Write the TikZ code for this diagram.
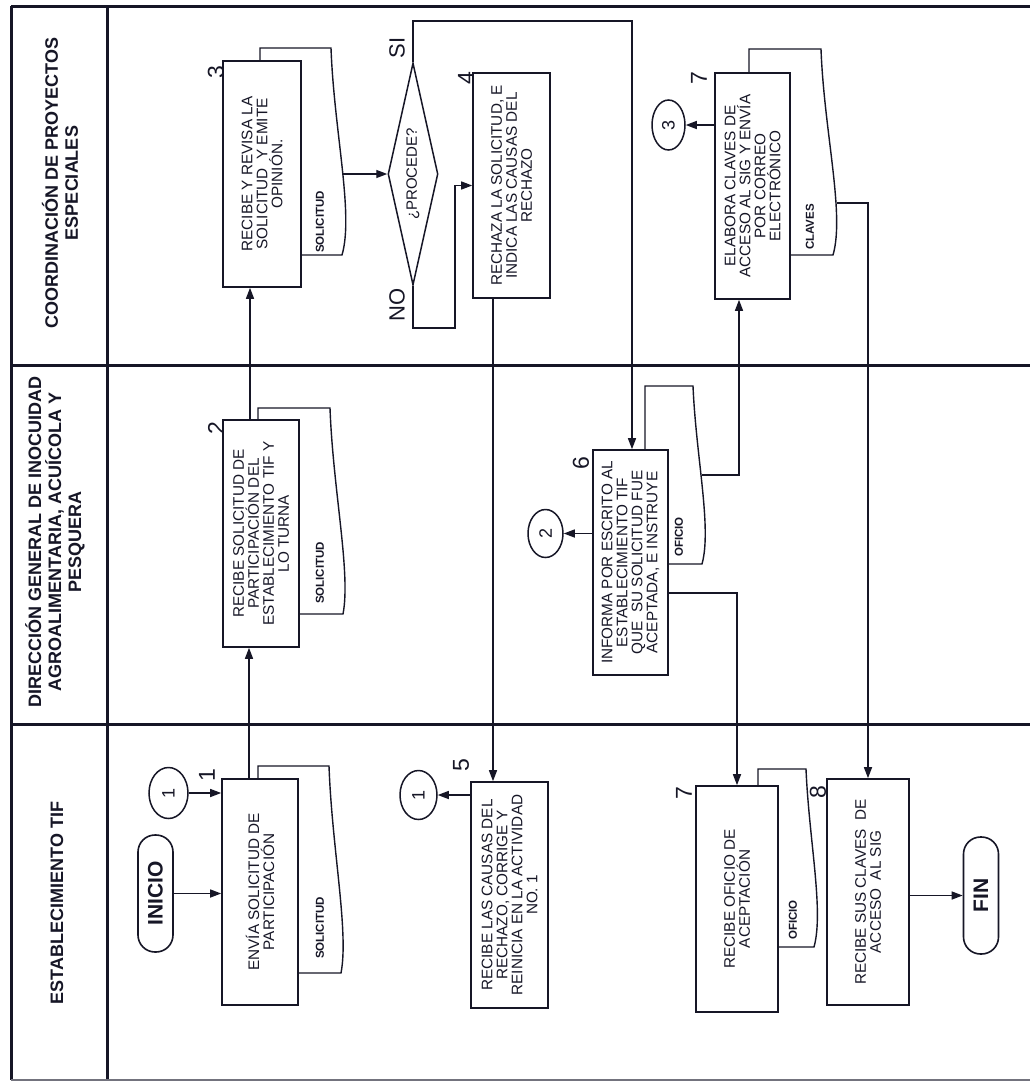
\documentclass[tikz,border=0pt]{standalone}
\usepackage{fontspec}
\setmainfont{Liberation Sans}
\usetikzlibrary{arrows.meta,shapes.geometric}
\definecolor{ink}{RGB}{22,22,38}
\begin{document}
\begin{tikzpicture}[x=1pt,y=-1pt,
  frameline/.style={draw=ink,line width=3pt},
  proc/.style={draw=ink,line width=1.6pt,fill=white,rotate=90,align=center,inner sep=0pt,text=ink,font=\fontsize{15.3}{15}\selectfont},
  docs/.style={draw=ink,line width=1.4pt},
  term/.style={draw=ink,line width=1.6pt,fill=white,rotate=90,rounded corners=17pt,inner sep=0pt,minimum width=117pt,minimum height=35pt,text=ink,font=\fontsize{21}{21}\selectfont\bfseries},
  conn/.style={draw=ink,line width=1.5pt,ellipse,rotate=90,inner sep=0pt,text=ink,font=\fontsize{18}{18}\selectfont},
  hdr/.style={rotate=90,align=center,inner sep=0pt,font=\fontsize{18}{20}\selectfont\bfseries,text=ink},
  num/.style={rotate=90,inner sep=0pt,font=\fontsize{23}{23}\selectfont,text=ink},
  dlbl/.style={rotate=90,inner sep=0pt,font=\fontsize{11.5}{12}\selectfont\bfseries,text=ink},
  arr/.style={draw=ink,line width=1.4pt,-{Triangle[length=11pt,width=8pt]}}
]
\useasboundingbox[fill=white] (0,0) rectangle (1030,1082);

% frame and lanes
\draw[frameline] (11,6) -- (1030,6);
\draw[frameline] (11,6) -- (11,1080);
\draw[frameline] (107,6) -- (107,1080);
\draw[frameline] (11,365) -- (1030,365);
\draw[frameline] (11,724) -- (1030,724);
\draw[draw=ink!60,line width=2pt] (11,1080) -- (1030,1080);

% lane headers
\node[hdr] (h1) at (60,183) {COORDINACIÓN DE PROYECTOS\\ESPECIALES};
\node[hdr] (h2) at (55,542) {DIRECCIÓN GENERAL DE INOCUIDAD\\AGROALIMENTARIA, ACUÍCOLA Y\\PESQUERA};
\node[hdr] (h3) at (57,903) {ESTABLECIMIENTO TIF};

% document shapes behind the boxes
\draw[docs] (260,61) -- (260,48) -- (331,48) .. controls (334,131) and (354,214) .. (342,255) -- (301,255);
\draw[docs] (258,420) -- (258,408) -- (330,408) .. controls (333,490) and (351,573) .. (343,614) -- (299,614);
\draw[docs] (258,779) -- (258,766) -- (329,766) .. controls (332,849) and (349,932) .. (341,973) -- (298,973);
\draw[docs] (749,73) -- (749,49) -- (821,49) .. controls (824,131) and (845,214) .. (833,255) -- (790,255);
\draw[docs] (645,450) -- (645,386) -- (693,386) .. controls (696,457) and (712,528) .. (702,564) -- (668,564);
\draw[docs] (758,786) -- (758,769) -- (806,769) .. controls (809,840) and (824,911) .. (814,947) -- (778,947);

\node[dlbl] (s3) at (320,222) {SOLICITUD};
\node[dlbl] (s2) at (320,573) {SOLICITUD};
\node[dlbl] (s1) at (320,928) {SOLICITUD};
\node[dlbl] (cl) at (810,227) {CLAVES};
\node[dlbl] (of6) at (679,537) {OFICIO};
\node[dlbl] (of7) at (793,920) {OFICIO};

% process boxes
\node[proc,minimum width=226pt,minimum height=76pt] (b1) at (260,892) {ENVÍA SOLICITUD DE\\PARTICIPACIÓN};
\node[proc,minimum width=227pt,minimum height=76pt] (b2) at (261,533.5) {RECIBE SOLICITUD DE\\PARTICIPACIÓN DEL\\ESTABLECIMIENTO TIF Y\\LO TURNA};
\node[proc,minimum width=226pt,minimum height=78pt] (b3) at (262,174) {RECIBE Y REVISA LA\\SOLICITUD \ Y EMITE\\OPINIÓN.};
\node[proc,minimum width=225pt,minimum height=77pt] (b4) at (511.5,185.5) {RECHAZA LA SOLICITUD, E\\INDICA LAS CAUSAS DEL\\RECHAZO};
\node[proc,minimum width=226pt,minimum height=77pt] (b5) at (509.5,895) {RECIBE LAS CAUSAS DEL\\RECHAZO, CORRIGE Y\\REINICIA EN LA ACTIVIDAD\\NO. 1};
\node[proc,minimum width=225pt,minimum height=75pt] (b6) at (630.5,562.5) {INFORMA POR ESCRITO AL\\ESTABLECIMIENTO TIF\\QUE \ SU SOLICITUD FUE\\ACEPTADA, E INSTRUYE};
\node[proc,minimum width=226pt,minimum height=75pt] (b7) at (752.5,186) {ELABORA CLAVES DE\\ACCESO AL SIG Y ENVÍA\\POR CORREO\\ELECTRÓNICO};
\node[proc,minimum width=226pt,minimum height=82pt] (b7b) at (737,899) {RECIBE OFICIO DE\\ACEPTACIÓN};
\node[proc,minimum width=226pt,minimum height=82pt] (b8) at (868,892) {RECIBE SUS CLAVES \ DE\\ACCESO \ AL SIG};

% decision
\node[draw=ink,line width=1.5pt,diamond,shape aspect=4.44,rotate=90,inner sep=0pt,minimum width=222pt,minimum height=50pt,text=ink,font=\fontsize{15}{15}\selectfont] (d) at (413,174) {¿PROCEDE?};

% terminals
\node[term] (inicio) at (155.5,893.5) {INICIO};
\node[term] (fin) at (981,895.5) {FIN};

% connectors (circles)
\node[conn,minimum width=51pt,minimum height=39pt] (c1a) at (168.5,793) {1};
\node[conn,minimum width=49pt,minimum height=37pt] (c1b) at (418.5,795) {1};
\node[conn,minimum width=48pt,minimum height=35pt] (c2) at (545.5,533.5) {2};
\node[conn,minimum width=50pt,minimum height=33pt] (c3) at (668.5,125) {3};

% step numbers
\node[num] (n1) at (207,775) {1};
\node[num] (n2) at (216,428) {2};
\node[num] (n3) at (216,72) {3};
\node[num] (n4) at (466,78) {4};
\node[num] (n5) at (461,765) {5};
\node[num] (n6) at (581,463) {6};
\node[num] (n7a) at (699,78) {7};
\node[num] (n7b) at (684,793) {7};
\node[num] (n8) at (818,792) {8};
\node[rotate=90,inner sep=0pt,font=\fontsize{22}{22}\selectfont,text=ink] (si) at (397,48) {SI};
\node[rotate=90,inner sep=0pt,font=\fontsize{22}{22}\selectfont,text=ink] (no) at (397,305) {NO};

% flow
\draw[arr] (inicio.south) -- (inicio.south -| b1.north);
\draw[arr] (c1a.south) -- (c1a.south -| b1.north);
\coordinate (l12) at ([xshift=-11pt]b1.east);
\draw[arr] (l12) -- (l12 |- b2.west);
\coordinate (l23) at ([xshift=-11pt]b2.east);
\draw[arr] (l23) -- (l23 |- b3.west);
\coordinate (d3o) at (343,174);
\draw[arr] (d3o) -- (d.north);
\coordinate (sic) at (632,21);
\draw[arr] (d.east) |- (sic) -- (sic |- b6.east);
\coordinate (noc) at (455,328);
\draw[arr] (d.west) |- (noc) |- (b4.north);
\coordinate (r45) at ([xshift=-18.5pt]b4.west);
\draw[arr] (r45) -- (r45 |- b5.east);
\draw[arr] (c1b.south -| b5.north) -- (c1b.south);
\draw[arr] (c2.south -| b6.north) -- (c2.south);
\draw[arr] ([yshift=-30.5pt]b6.south) -| (b7b.east);
\coordinate (d6o) at (702,475);
\draw[arr] (d6o) -| ([xshift=-13.5pt]b7.west);
\draw[arr] (c3.south -| b7.north) -- (c3.south);
\coordinate (d7o) at (837,203);
\draw[arr] (d7o) -| (b8.east);
\draw[arr] (fin.north -| b8.south) -- (fin.north);
\end{tikzpicture}
\end{document}
